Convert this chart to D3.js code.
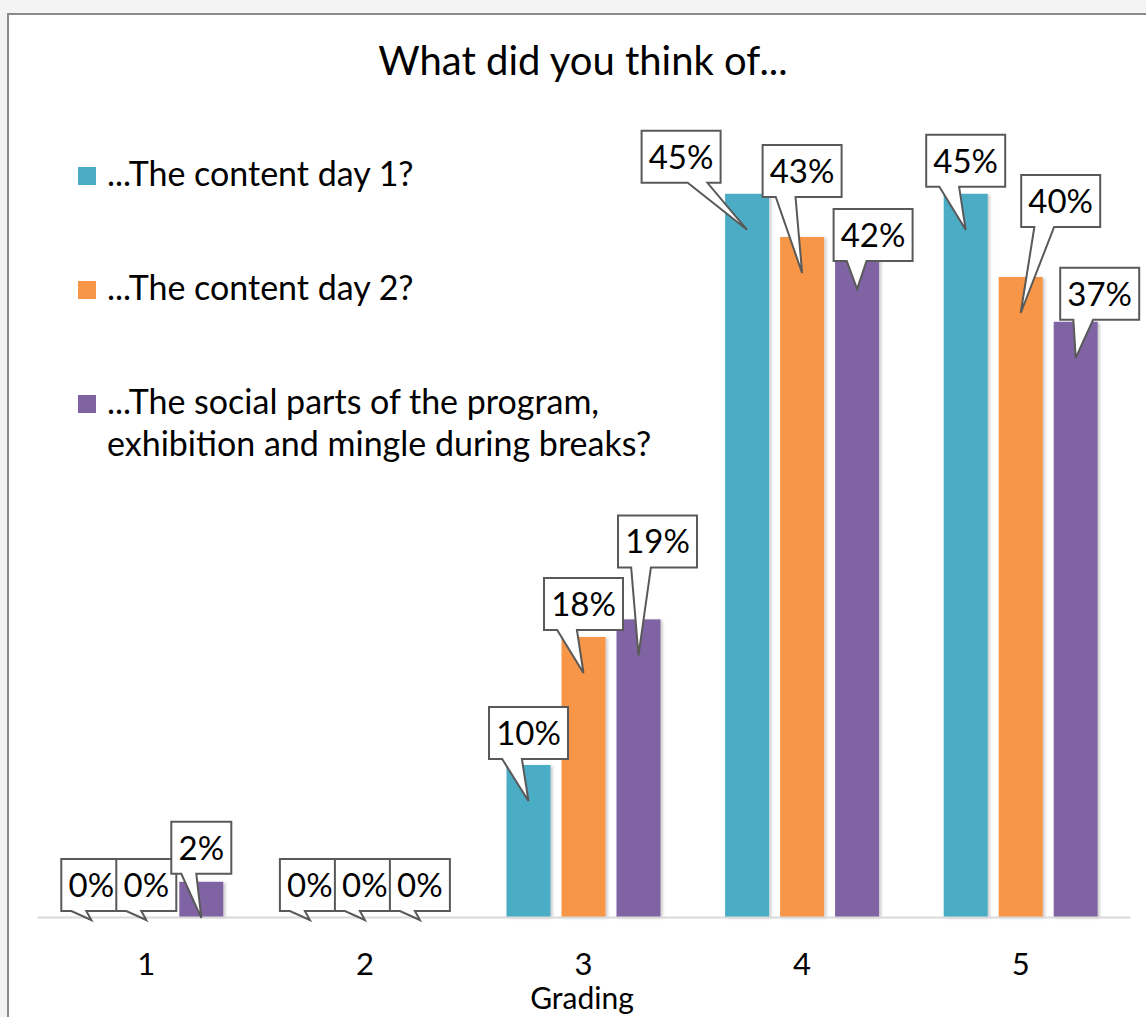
<!DOCTYPE html>
<html><head><meta charset="utf-8">
<script src="https://cdn.jsdelivr.net/npm/d3@7"></script>
<style>
html,body{margin:0;padding:0;background:#f4f4f4;}
svg{display:block;}
text{font-family:Lato,"Open Sans",sans-serif;fill:#000;}
</style></head><body>
<svg id="chart" width="1146" height="1017"></svg>
<script>
// ---------- data ----------
const categories = ["1", "2", "3", "4", "5"];
const seriesKeys = ["day1", "day2", "social"];
const legendLabels = [
  ["...The content day 1?"],
  ["...The content day 2?"],
  ["...The social parts of the program,", "exhibition and mingle during breaks?"]
];
const contentDay1 = [0, 0, 9.5, 45.2, 45.2];     // percent
const contentDay2 = [0, 0, 17.5, 42.5, 40.0];
const socialParts = [2.2, 0, 18.6, 41.5, 37.2];
const chartTitle = "What did you think of...";
const xAxisTitle = "Grading";

// ---------- layout / style ----------
const colors = ["#4BACC6", "#F79646", "#8064A2"];
// callout box offsets relative to the pointer tip: [dx of box centre, gap from box bottom to tip]
const calloutOffsets = [
  [[0, 9], [0, 9], [0, 42], [-66, 47], [0, 43]],
  [[0, 9], [0, 9], [0, 43], [0, 76], [40, 86]],
  [[0, 44], [0, 9], [19, 88], [16, 28], [24, 38]]
];
const W = 1146, H = 1017;
const baseY = 917;
const plotLeft = 37, plotRight = 1130;
const pxPerPct = 16;

const svg = d3.select("#chart");
const defs = svg.append("defs");
const f = defs.append("filter").attr("id", "shadow").attr("x", "-20%").attr("y", "-5%").attr("width", "140%").attr("height", "110%");
f.append("feDropShadow").attr("dx", 2).attr("dy", 1).attr("stdDeviation", 1.5).attr("flood-color", "#000").attr("flood-opacity", 0.22);

// chart area
svg.append("rect").attr("x", 8).attr("y", 14).attr("width", W + 20).attr("height", H + 20)
  .attr("fill", "#fff").attr("stroke", "#8a8a8a").attr("stroke-width", 2);

const values = [contentDay1, contentDay2, socialParts];

const x = d3.scaleBand().domain(categories).range([plotLeft, plotRight]).paddingInner(0).paddingOuter(0);
const bw = x.bandwidth();
const xs = d3.scaleBand().domain(seriesKeys).range([bw / 2 - 82.5, bw / 2 + 82.5]).paddingInner(0.2).paddingOuter(0.1);
const y = d3.scaleLinear().domain([0, 50]).range([baseY, baseY - 50 * pxPerPct]);

// title
svg.append("text").attr("x", 583).attr("y", 75).attr("text-anchor", "middle")
  .attr("font-size", 40).text(chartTitle);

// bars
const gBars = svg.append("g");
values.forEach((vals, si) => {
  gBars.selectAll(null).data(vals.map((v, ci) => ({ v, c: categories[ci] })))
    .join("rect")
    .attr("x", d => x(d.c) + xs(seriesKeys[si]))
    .attr("y", d => y(d.v))
    .attr("width", xs.bandwidth())
    .attr("height", d => y(0) - y(d.v))
    .attr("fill", colors[si])
    .attr("filter", "url(#shadow)");
});

// x axis
const xAxis = d3.axisBottom(x).tickSize(0).tickSizeOuter(0).tickPadding(0);
const gx = svg.append("g").attr("transform", `translate(0,${baseY})`).call(xAxis);
gx.select(".domain").attr("stroke", "#d9d9d9").attr("stroke-width", 2);
gx.selectAll(".tick text").attr("font-size", 31).attr("fill", "#000")
  .attr("font-family", "Lato,'Open Sans',sans-serif").attr("dy", null).attr("y", 58);

svg.append("text").attr("x", 582).attr("y", 1009).attr("text-anchor", "middle")
  .attr("font-size", 30).text(xAxisTitle);

// legend
const legendRowY = [176, 290, 404];
legendLabels.forEach((lines, i) => {
  const g = svg.append("g");
  g.append("rect").attr("x", 78).attr("y", legendRowY[i] - 9).attr("width", 18).attr("height", 18).attr("fill", colors[i]);
  lines.forEach((ln, j) => {
    g.append("text").attr("x", 107).attr("y", legendRowY[i] + 10 + j * 42)
      .attr("font-size", 34).text(ln);
  });
});

// callouts
function wedgePath(l, t, w, h, px, py) {
  const r = l + w, b = t + h, hc = l + w / 2, vc = t + h / 2;
  const dxPos = px - hc, dyPos = py - vc;
  const dq = dxPos * h / w;
  const dz = Math.abs(dyPos) - Math.abs(dq);
  const xg1 = dxPos > 0 ? 7 : 2, xg2 = dxPos > 0 ? 10 : 5;
  const yg1 = dyPos > 0 ? 7 : 2, yg2 = dyPos > 0 ? 10 : 5;
  const x1 = l + w * xg1 / 12, x2 = l + w * xg2 / 12;
  const y1 = t + h * yg1 / 12, y2 = t + h * yg2 / 12;
  const xl = dz > 0 ? l : (dxPos > 0 ? l : px);
  const yl = dz > 0 ? y1 : (dxPos > 0 ? y1 : py);
  const xt = dz > 0 ? (dyPos > 0 ? x1 : px) : x1;
  const yt = dz > 0 ? (dyPos > 0 ? t : py) : t;
  const xr = dz > 0 ? r : (dxPos > 0 ? px : r);
  const yr = dz > 0 ? y1 : (dxPos > 0 ? py : y1);
  const xb = dz > 0 ? (dyPos > 0 ? px : x1) : x1;
  const yb = dz > 0 ? (dyPos > 0 ? py : b) : b;
  const p = d3.path();
  p.moveTo(l, t); p.lineTo(x1, t); p.lineTo(xt, yt); p.lineTo(x2, t); p.lineTo(r, t);
  p.lineTo(r, y1); p.lineTo(xr, yr); p.lineTo(r, y2); p.lineTo(r, b);
  p.lineTo(x2, b); p.lineTo(xb, yb); p.lineTo(x1, b); p.lineTo(l, b);
  p.lineTo(l, y2); p.lineTo(xl, yl); p.lineTo(l, y1); p.closePath();
  return p.toString();
}

const fmt = v => Math.round(v) + "%";
const labelFont = 33;
const measure = svg.append("text").attr("font-size", labelFont).attr("visibility", "hidden");
const gLab = svg.append("g");
values.forEach((vals, si) => {
  vals.forEach((v, ci) => {
    const label = fmt(v);
    measure.text(label);
    const tw = measure.node().getComputedTextLength();
    const bwid = Math.round(tw + 14), bh = 52;
    const px = x(categories[ci]) + xs(seriesKeys[si]) + xs.bandwidth() / 2;
    const py = Math.min(y(v) + 36, baseY + 3);
    const [dx, gap] = calloutOffsets[si][ci];
    const l = px + dx - bwid / 2, t = py - gap - bh;
    const g = gLab.append("g");
    g.append("path").attr("d", wedgePath(l, t, bwid, bh, px, py))
      .attr("fill", "#fff").attr("stroke", "#595959").attr("stroke-width", 2).attr("stroke-linejoin", "miter");
    g.append("text").attr("x", l + bwid / 2).attr("y", t + bh / 2 + labelFont * 0.36)
      .attr("text-anchor", "middle").attr("font-size", labelFont).text(label);
  });
});
measure.remove();
</script>
</body></html>
